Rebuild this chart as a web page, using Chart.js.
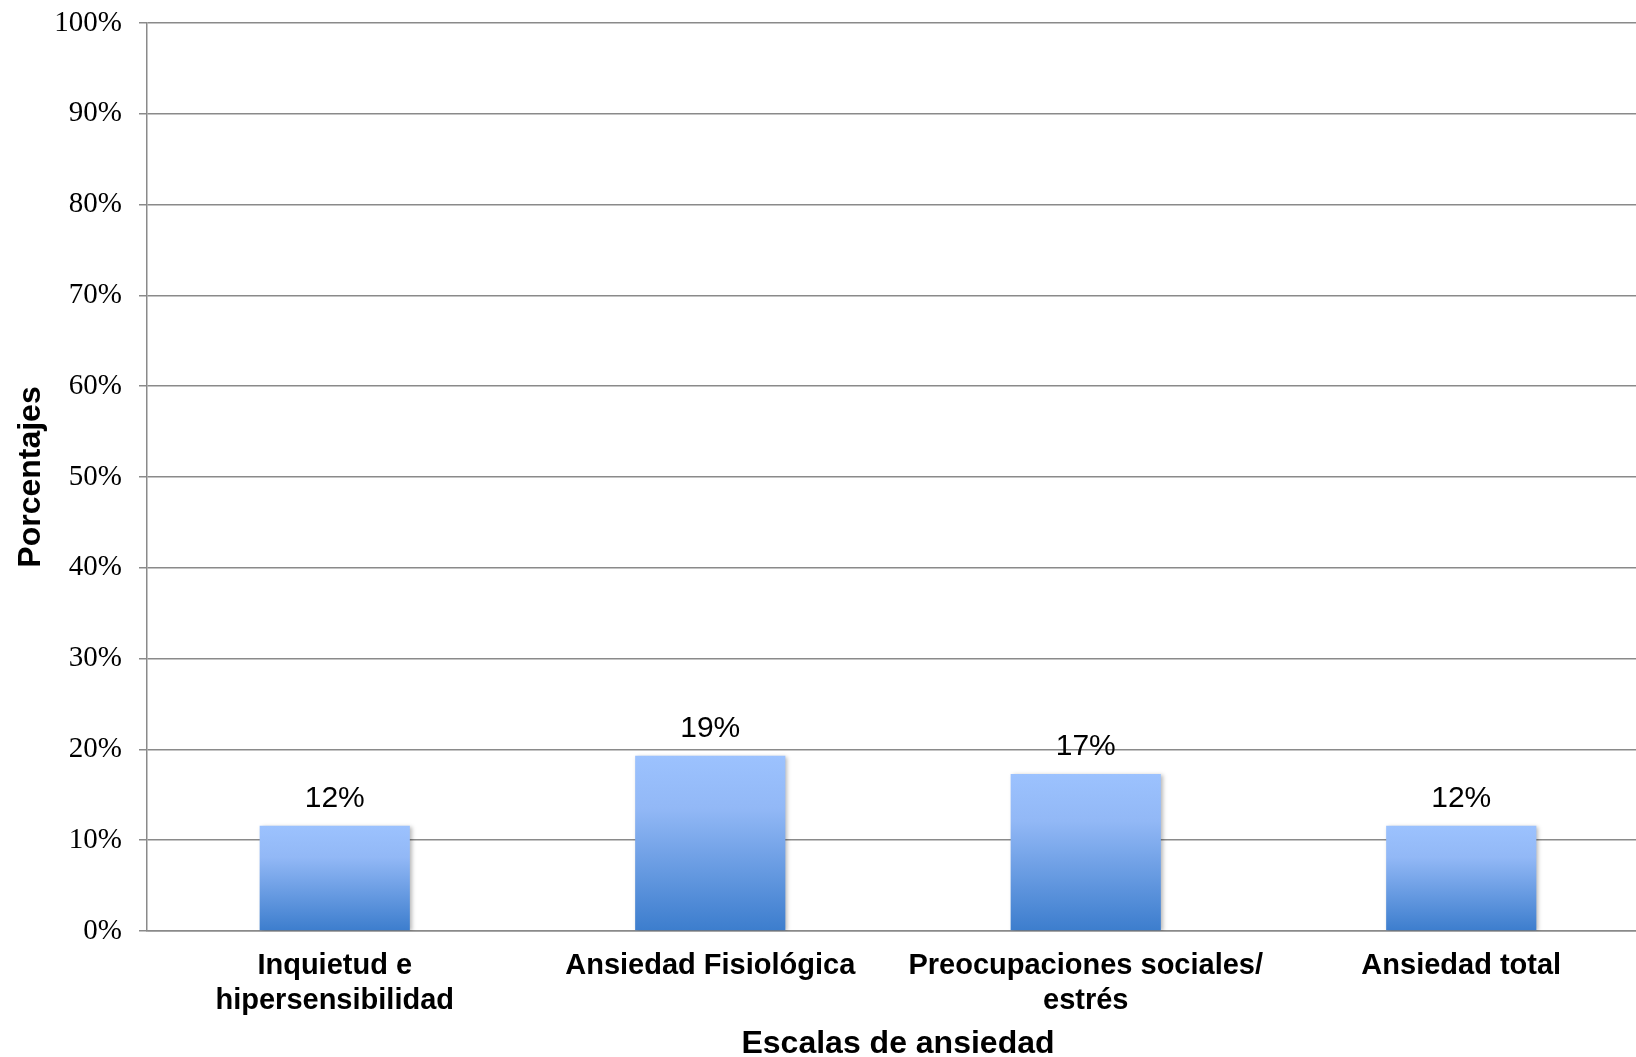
<!DOCTYPE html>
<html>
<head>
<meta charset="utf-8">
<script src="https://cdn.jsdelivr.net/npm/chart.js@4/dist/chart.umd.min.js"></script>
<style>
    html, body { margin: 0; padding: 0; background: #fff; overflow: hidden; }
    #wrap { width: 1636px; height: 1057px; overflow: hidden; }
</style>
</head>
<body>
<div id="wrap"><canvas id="anxietyChart" width="1649" height="1057"></canvas></div>
<script>
const categories = [
    ['Inquietud e', 'hipersensibilidad'],
    'Ansiedad Fisiológica',
    ['Preocupaciones sociales/', 'estrés'],
    'Ansiedad total'
];
const percentages = [11.6, 19.3, 17.3, 11.6];
const yMin = 0;
const yMax = 100;
const yStep = 10;

const gridGray = '#8a8a8a';

// etiquetas encima de cada barra
const barLabels = {
    id: 'barLabels',
    beforeDatasetsDraw(chart) {
        const ctx = chart.ctx;
        ctx.save();
        ctx.shadowColor = 'rgba(0, 0, 0, 0.28)';
        ctx.shadowBlur = 4;
        ctx.shadowOffsetX = 2;
        ctx.shadowOffsetY = 1;
    },
    afterDatasetsDraw(chart) {
        const ctx = chart.ctx;
        ctx.restore();
        ctx.save();
        ctx.font = '30px "Liberation Sans", Arial, sans-serif';
        ctx.fillStyle = '#000';
        ctx.textAlign = 'center';
        ctx.textBaseline = 'alphabetic';
        chart.getDatasetMeta(0).data.forEach(function (bar, i) {
            ctx.fillText(Math.round(percentages[i]) + '%', bar.x, bar.y - 19);
        });
        ctx.restore();
    }
};

function barGradient(context) {
    const chart = context.chart;
    const area = chart.chartArea;
    if (!area || context.type !== 'data') return '#6f9fe6';
    const y = chart.scales.y;
    const top = y.getPixelForValue(context.raw);
    const bottom = y.getPixelForValue(0);
    const g = chart.ctx.createLinearGradient(0, top, 0, bottom);
    g.addColorStop(0, '#9cc2fe');
    g.addColorStop(0.3, '#92b8f6');
    g.addColorStop(1, '#3c7dcd');
    return g;
}

const ctx = document.getElementById('anxietyChart').getContext('2d');
new Chart(ctx, {
    type: 'bar',
    data: {
        labels: categories,
        datasets: [{
            data: percentages,
            backgroundColor: barGradient,
            borderWidth: 0,
            barPercentage: 0.4,
            categoryPercentage: 1.0
        }]
    },
    options: {
        responsive: false,
        animation: false,
        layout: { padding: { top: 23, right: 0, left: 0, bottom: 0 } },
        plugins: {
            legend: { display: false },
            tooltip: { enabled: false }
        },
        scales: {
            x: {
                grid: { display: false, drawTicks: false },
                border: { color: gridGray, width: 1.5 },
                ticks: {
                    color: '#000',
                    padding: 18,
                    maxRotation: 0,
                    autoSkip: false,
                    font: { family: '"Liberation Sans", Arial, sans-serif', size: 29, weight: 'bold', lineHeight: 1.2 }
                },
                title: {
                    display: true,
                    text: 'Escalas de ansiedad',
                    color: '#000',
                    padding: { top: 0, bottom: 0 },
                    font: { family: '"Liberation Sans", Arial, sans-serif', size: 32, weight: 'bold', lineHeight: 0.8 }
                },
                afterFit(scale) { scale.height = 126; }
            },
            y: {
                min: yMin,
                max: yMax,
                grid: { color: gridGray, lineWidth: 1.5, tickLength: 8 },
                border: { color: gridGray, width: 1.5 },
                ticks: {
                    stepSize: yStep,
                    color: '#000',
                    padding: 17,
                    font: { family: '"Liberation Serif", "Times New Roman", serif', size: 29 },
                    callback: function (v) { return v + '%'; }
                },
                title: {
                    display: true,
                    text: 'Porcentajes',
                    color: '#000',
                    padding: { top: 12, bottom: 0 },
                    font: { family: '"Liberation Sans", Arial, sans-serif', size: 32, weight: 'bold', lineHeight: 1.2 }
                },
                afterFit(scale) {
                    scale.width = 147;
                    scale.paddingTop = 0;
                    scale.paddingBottom = 0;
                }
            }
        }
    },
    plugins: [barLabels]
});
</script>
</body>
</html>
